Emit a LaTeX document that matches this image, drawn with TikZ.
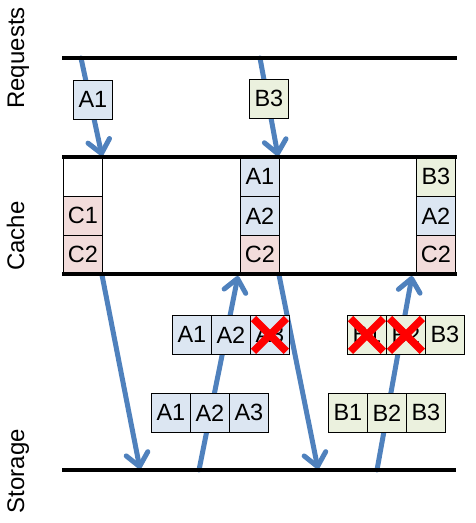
\documentclass[tikz,border=0pt]{standalone}
\usepackage{fontspec}
\setmainfont{Liberation Sans}
\usetikzlibrary{arrows.meta}
\definecolor{arrowblue}{HTML}{4F81BD}
\definecolor{cellblue}{HTML}{DCE6F2}
\definecolor{cellgreen}{HTML}{EBF1DE}
\definecolor{cellred}{HTML}{F2DCDB}
\begin{document}
\begin{tikzpicture}[x=1pt,y=-1pt,
  cell/.style={draw=black, line width=0.8pt, minimum width=39pt, minimum height=39pt,
    inner sep=0pt, font=\fontsize{23.5}{25}\selectfont, anchor=north west},
  bluecell/.style={cell, fill=cellblue},
  greencell/.style={cell, fill=cellgreen},
  redcell/.style={cell, fill=cellred},
  emptycell/.style={cell, fill=white},
  flow/.style={draw=arrowblue, line width=5pt, line cap=round,
    -{Straight Barb[length=13pt, width=22pt, line cap=round, line join=round]}},
  rail/.style={line width=4pt, black},
  cross/.style={draw=red, line width=7.5pt},
  lane/.style={rotate=90, anchor=base, font=\fontsize{24}{26}\selectfont}]
\useasboundingbox (0,0) rectangle (476,523);

% lane labels
\node[lane] (lreq) at (24,58) {Requests};
\node[lane] (lcache) at (24,236) {Cache};
\node[lane] (lstore) at (24,471) {Storage};

% arrow endpoints
\coordinate (a1s) at (81,58);   \coordinate (a1e) at (102,156);
\coordinate (a2s) at (260,58);  \coordinate (a2e) at (278,156);
\coordinate (a3s) at (102,275); \coordinate (a3e) at (140,469);
\coordinate (a4s) at (199,470); \coordinate (a4e) at (238,276);
\coordinate (a5s) at (279,275); \coordinate (a5e) at (318,469);
\coordinate (a6s) at (377,470); \coordinate (a6e) at (412,276);

\draw[flow] (a1s) -- (a1e);
\draw[flow] (a2s) -- (a2e);
\draw[flow] (a3s) -- (a3e);
\draw[flow] (a4s) -- (a4e);
\draw[flow] (a5s) -- (a5e);
\draw[flow] (a6s) -- (a6e);

% requests
\node[bluecell] (ra1) at (73,80) {A1};
\node[greencell] (rb3) at (249,79) {B3};

% cache state 1
\node[emptycell] (c1e) at (63,157) {};
\node[redcell] (c1c1) at (63,196) {C1};
\node[redcell] (c1c2) at (63,235) {C2};
% cache state 2
\node[bluecell] (c2a1) at (240,157) {A1};
\node[bluecell] (c2a2) at (240,196) {A2};
\node[redcell] (c2c2) at (240,235) {C2};
% cache state 3
\node[greencell] (c3b3) at (416,157) {B3};
\node[bluecell] (c3a2) at (416,196) {A2};
\node[redcell] (c3c2) at (416,235) {C2};

% loaded stacks
\node[bluecell] (la1) at (172,315) {A1};
\node[bluecell] (la2) at (211,315) {A2};
\node[bluecell] (la3) at (250,315) {A3};
\node[greencell] (lb1) at (347,315) {B1};
\node[greencell] (lb2) at (386,315) {B2};
\node[greencell] (lb3) at (425,315) {B3};

% storage
\node[bluecell] (sa1) at (151,393) {A1};
\node[bluecell] (sa2) at (190,393) {A2};
\node[bluecell] (sa3) at (229,393) {A3};
\node[greencell] (sb1) at (328,393) {B1};
\node[greencell] (sb2) at (367,393) {B2};
\node[greencell] (sb3) at (406,393) {B3};

% crosses
\foreach \n in {la3,lb1,lb2}{
  \draw[cross] ([shift={(3.5,3.5)}]\n.north west) -- ([shift={(-3.5,-3.5)}]\n.south east);
  \draw[cross] ([shift={(-3.5,3.5)}]\n.north east) -- ([shift={(3.5,-3.5)}]\n.south west);
}

% rails
\coordinate (r1l) at (62,58);  \coordinate (r1r) at (457,58);
\coordinate (r2l) at (62,157); \coordinate (r2r) at (457,157);
\coordinate (r3l) at (62,274); \coordinate (r3r) at (457,274);
\coordinate (r4l) at (62,470); \coordinate (r4r) at (456,470);
\draw[rail] (r1l) -- (r1r);
\draw[rail] (r2l) -- (r2r);
\draw[rail] (r3l) -- (r3r);
\draw[rail] (r4l) -- (r4r);
\end{tikzpicture}
\end{document}
